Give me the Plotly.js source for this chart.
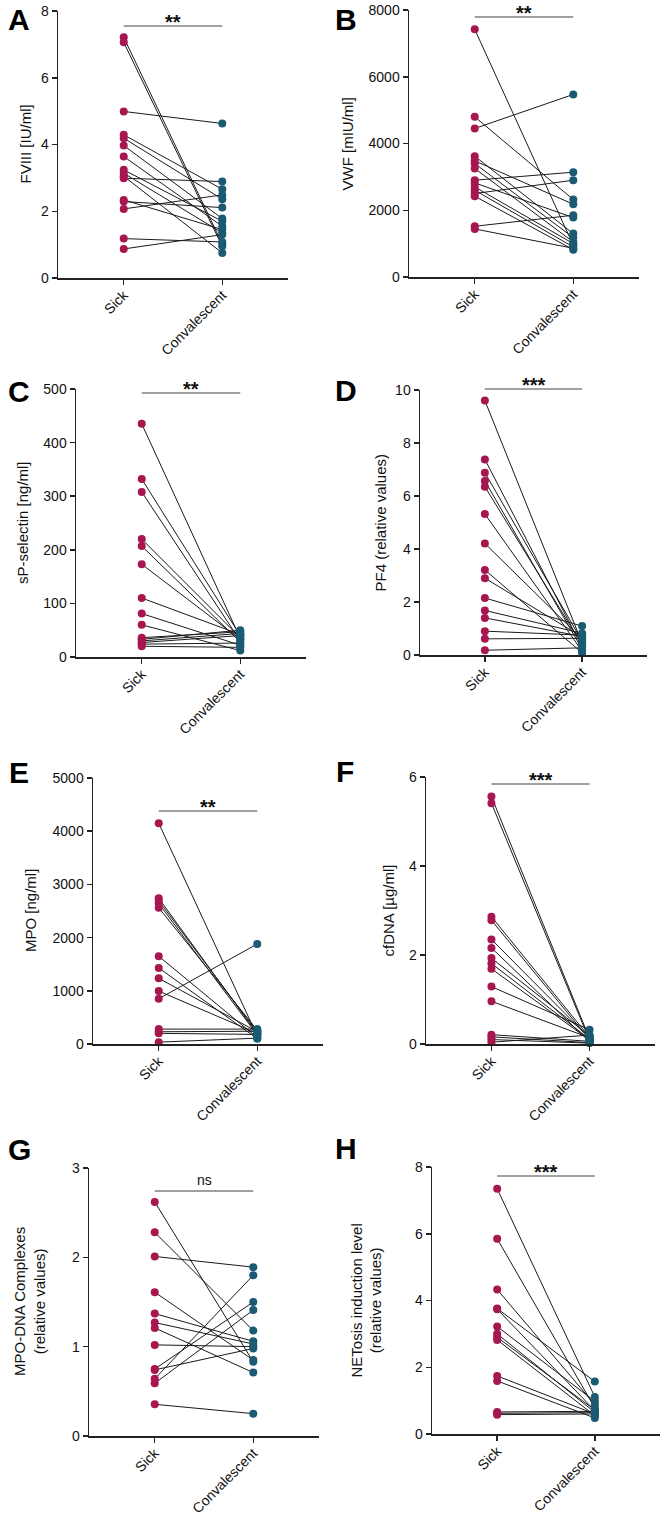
<!DOCTYPE html>
<html><head><meta charset="utf-8">
<script src="https://cdn.plot.ly/plotly-3.0.1.min.js"></script>
<style>html,body{margin:0;padding:0;background:#fff}#chart{width:664px;height:1516px}</style>
</head><body><div id="chart"></div>
<script>
// ---- data ----
const groups = ['Sick', 'Convalescent'];

const fviiiSick = [7.21, 7.06, 4.99, 4.29, 4.19, 3.97, 3.64, 3.24, 3.14, 3.05, 2.99, 2.34, 2.29, 2.07, 1.18, 0.87];
const fviiiConv = [1.02, 0.95, 4.63, 2.66, 2.36, 1.78, 1.55, 1.70, 1.35, 0.75, 2.89, 1.45, 2.11, 2.49, 1.08, 1.30];

const vwfSick = [7420, 4800, 4450, 3620, 3480, 3400, 3250, 2900, 2820, 2700, 2600, 2500, 2420, 1520, 1440];
const vwfConv = [950, 2320, 5470, 1300, 2180, 1180, 1050, 3140, 1780, 1000, 900, 2900, 820, 1850, 860];

const selectinSick = [435, 332, 308, 220, 207, 173, 110, 81, 60, 36, 33, 30, 27, 24, 20];
const selectinConv = [35, 40, 30, 36, 28, 33, 42, 22, 12, 47, 50, 44, 40, 26, 18];

const pf4Sick = [9.6, 7.38, 6.88, 6.57, 6.35, 5.32, 4.21, 3.21, 2.9, 2.15, 1.68, 1.40, 0.90, 0.61, 0.18];
const pf4Conv = [0.45, 0.30, 0.52, 0.22, 0.38, 0.15, 0.60, 0.08, 0.68, 1.09, 0.82, 0.70, 0.75, 0.63, 0.27];

const mpoSick = [4150, 2740, 2690, 2640, 2560, 1650, 1430, 1235, 995, 850, 280, 230, 200, 35];
const mpoConv = [150, 190, 220, 170, 260, 120, 100, 230, 200, 1880, 280, 240, 180, 110];

const cfdnaSick = [5.56, 5.41, 2.86, 2.78, 2.35, 2.16, 1.93, 1.81, 1.69, 1.29, 0.96, 0.21, 0.16, 0.10, 0.04];
const cfdnaConv = [0.12, 0.08, 0.15, 0.10, 0.13, 0.05, 0.18, 0.11, 0.09, 0.32, 0.14, 0.06, 0.03, 0.02, 0.20];

const mpodnaSick = [2.62, 2.28, 2.01, 1.61, 1.37, 1.27, 1.21, 1.02, 0.75, 0.74, 0.64, 0.59, 0.355];
const mpodnaConv = [0.83, 1.18, 1.89, 0.85, 1.06, 1.03, 0.71, 1.00, 1.50, 0.98, 1.80, 1.41, 0.25];

const netSick = [7.35, 5.85, 4.33, 3.76, 3.74, 3.22, 3.00, 2.90, 2.82, 1.74, 1.59, 0.66, 0.62, 0.58];
const netConv = [1.11, 0.78, 0.88, 1.57, 0.70, 0.98, 0.65, 0.72, 0.55, 0.60, 0.48, 0.68, 0.64, 0.60];

const yTitles = ['FVIII [IU/ml]', 'VWF [mIU/ml]', 'sP-selectin [ng/ml]', 'PF4 (relative values)',
  'MPO [ng/ml]', 'cfDNA [µg/ml]', 'MPO-DNA Complexes<br>(relative values)', 'NETosis induction level<br>(relative values)'];
const letters = ['A', 'B', 'C', 'D', 'E', 'F', 'G', 'H'];
const sigLabels = ['**', '**', '**', '***', '**', '***', 'ns', '***'];

// ---- layout geometry (pixels) ----
const W = 664, H = 1516;
const panels = [
  {sick: fviiiSick, conv: fviiiConv, ymax: 8, dtick: 2, x0: 58, x1: 288, yt: 11, yb: 278, bar: 26, tx: 25, lx: 7, ly: 20},
  {sick: vwfSick, conv: vwfConv, ymax: 8000, dtick: 2000, x0: 409, x1: 639, yt: 10, yb: 277, bar: 17, tx: 347, lx: 334, ly: 20},
  {sick: selectinSick, conv: selectinConv, ymax: 500, dtick: 100, x0: 76, x1: 306, yt: 389, yb: 657, bar: 393, tx: 22, lx: 7, ly: 391},
  {sick: pf4Sick, conv: pf4Conv, ymax: 10, dtick: 2, x0: 420, x1: 647, yt: 390, yb: 655, bar: 389, tx: 380, lx: 334, ly: 390},
  {sick: mpoSick, conv: mpoConv, ymax: 5000, dtick: 1000, x0: 93, x1: 323, yt: 778, yb: 1044, bar: 811, tx: 31, lx: 8, ly: 772},
  {sick: cfdnaSick, conv: cfdnaConv, ymax: 6, dtick: 2, x0: 426, x1: 655, yt: 777, yb: 1044, bar: 784, tx: 388, lx: 335, ly: 771},
  {sick: mpodnaSick, conv: mpodnaConv, ymax: 3, dtick: 1, x0: 89, x1: 319, yt: 1168, yb: 1436, bar: 1191, tx: 29, lx: 7, ly: 1149},
  {sick: netSick, conv: netConv, ymax: 8, dtick: 2, x0: 432, x1: 660, yt: 1167, yb: 1434, bar: 1176, tx: 366, lx: 334, ly: 1148}
];

const SICK = '#A8164F', CONV = '#1A5A73', AX = '#222';
const FONT = 'Liberation Sans, Arial, Helvetica, sans-serif';
const RANGE = [-0.667, 1.667];
const fx = px => px / W, fy = px => 1 - px / H;

const traces = [];
const layout = {
  width: W, height: H, margin: {l: 0, r: 0, t: 0, b: 0},
  paper_bgcolor: '#fff', plot_bgcolor: '#fff', showlegend: false,
  font: {family: FONT, color: '#111', size: 14},
  shapes: [], annotations: []
};

panels.forEach((p, i) => {
  const n = i + 1, sfx = n === 1 ? '' : String(n);
  const xa = 'x' + sfx, ya = 'y' + sfx;
  // connecting lines
  const lx = [], ly = [];
  p.sick.forEach((v, k) => { lx.push(groups[0], groups[1], null); ly.push(v, p.conv[k], null); });
  traces.push({x: lx, y: ly, mode: 'lines', line: {color: '#1a1a1a', width: 1}, xaxis: xa, yaxis: ya, hoverinfo: 'skip', cliponaxis: false});
  traces.push({x: p.sick.map(() => groups[0]), y: p.sick, mode: 'markers', marker: {color: SICK, size: 8}, xaxis: xa, yaxis: ya, cliponaxis: false});
  traces.push({x: p.conv.map(() => groups[1]), y: p.conv, mode: 'markers', marker: {color: CONV, size: 8}, xaxis: xa, yaxis: ya, cliponaxis: false});

  layout['xaxis' + sfx] = {
    domain: [fx(p.x0), fx(p.x1)], anchor: ya, type: 'category',
    categoryorder: 'array', categoryarray: groups, range: RANGE,
    showline: true, linecolor: AX, linewidth: 1.5, ticks: 'outside', ticklen: 5, tickwidth: 1.5, tickcolor: AX,
    tickangle: -45, ticklabelstandoff: -3, tickfont: {family: FONT, size: 14, color: '#111'},
    showgrid: false, zeroline: false, fixedrange: true
  };
  layout['yaxis' + sfx] = {
    domain: [fy(p.yb), fy(p.yt)], anchor: xa, range: [0, p.ymax], tick0: 0, dtick: p.dtick,
    showline: true, linecolor: AX, linewidth: 1.5, ticks: 'outside', ticklen: 5, tickwidth: 1.5, tickcolor: AX,
    tickfont: {family: FONT, size: 14, color: '#111'},
    showgrid: false, zeroline: false, fixedrange: true
  };

  const frac = (p.yb - p.bar) / (p.yb - p.yt);
  const sx0 = (0 - RANGE[0]) / (RANGE[1] - RANGE[0]);
  const sx1 = (1 - RANGE[0]) / (RANGE[1] - RANGE[0]);
  layout.shapes.push({type: 'line', xref: xa + ' domain', yref: ya + ' domain', x0: sx0, x1: sx1, y0: frac, y1: frac,
    line: {color: '#444', width: 1.2}});
  const isNs = sigLabels[i] === 'ns';
  layout.annotations.push({xref: xa + ' domain', yref: ya + ' domain', x: 0.5, y: frac, text: sigLabels[i],
    showarrow: false, yanchor: 'middle', xanchor: 'center', yshift: isNs ? 11 : 4,
    font: {family: FONT, size: isNs ? 14 : 20, color: '#111', weight: isNs ? 'normal' : 'bold'}});
  // y-axis title
  layout.annotations.push({xref: 'paper', yref: 'paper', x: fx(p.tx), y: fy((p.yt + p.yb) / 2), text: yTitles[i],
    textangle: -90, showarrow: false, xanchor: 'center', yanchor: 'middle',
    font: {family: FONT, size: 15, color: '#111'}});
  // panel letter
  layout.annotations.push({xref: 'paper', yref: 'paper', x: fx(p.lx), y: fy(p.ly), text: '<b>' + letters[i] + '</b>',
    showarrow: false, xanchor: 'left', yanchor: 'middle', borderpad: 0,
    font: {family: FONT, size: 30, color: '#000'}});
});

Plotly.newPlot('chart', traces, layout, {staticPlot: true, displayModeBar: false});
</script>
</body></html>
